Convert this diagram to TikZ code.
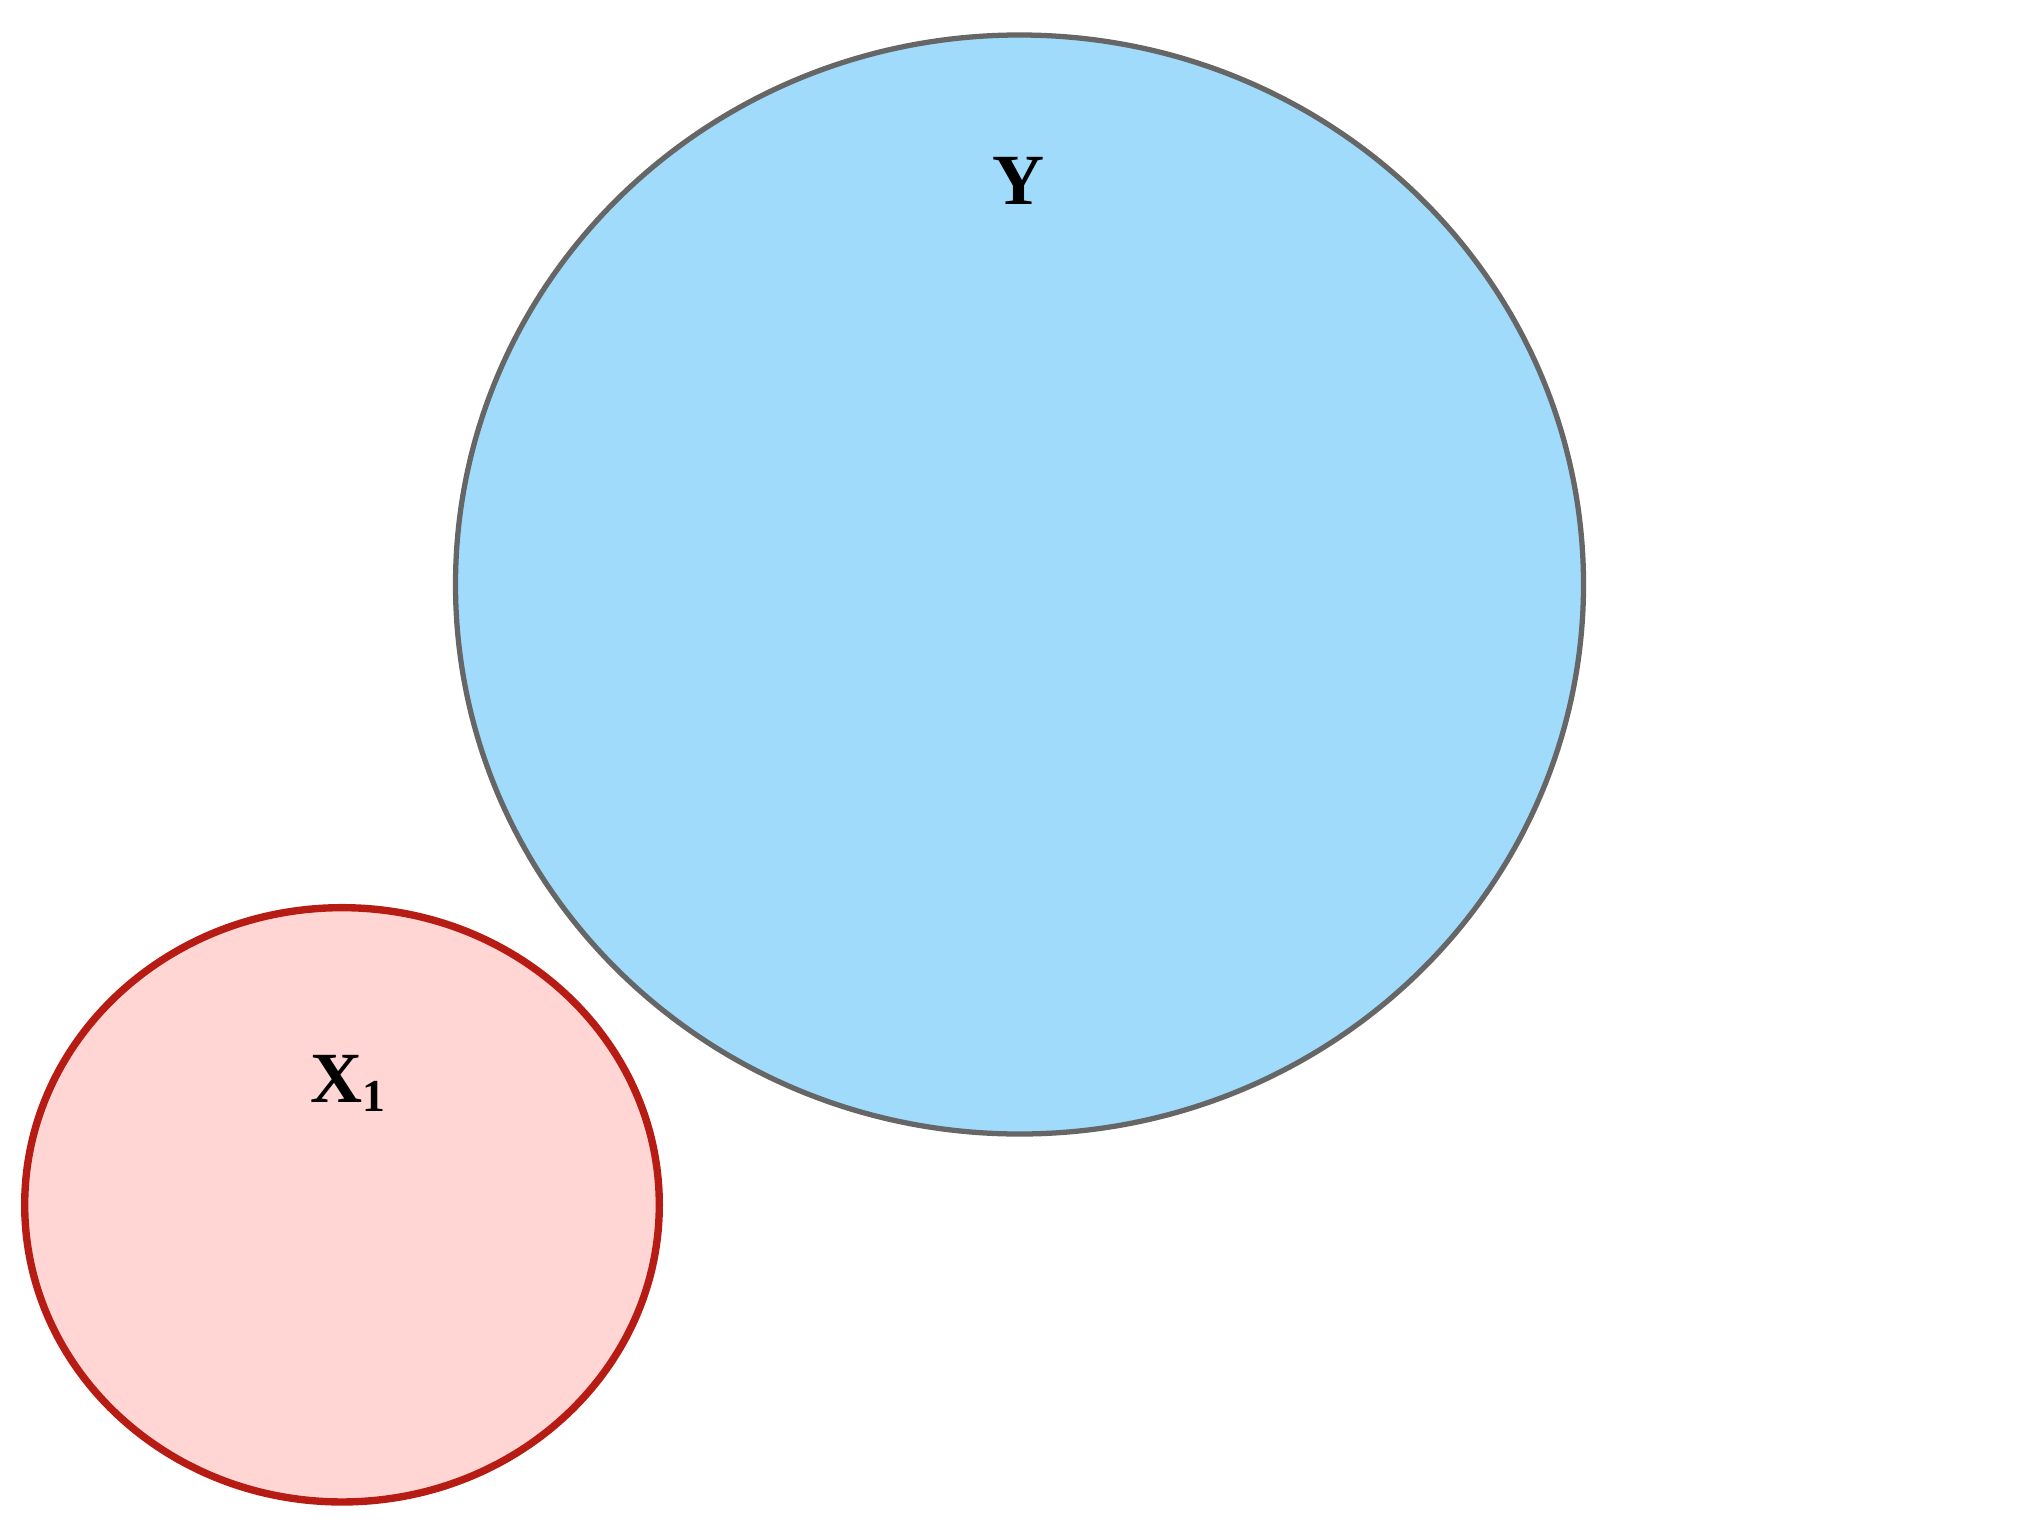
\documentclass[tikz,border=0pt]{standalone}
\usepackage{fontspec}
\setmainfont{Liberation Serif}
\newfontfamily\labfont{Liberation Serif}
\usetikzlibrary{shapes.geometric}
\definecolor{setblue}{HTML}{A0DBFB}
\definecolor{setgray}{HTML}{666666}
\definecolor{setpink}{HTML}{FFD6D4}
\definecolor{setred}{HTML}{B71C14}
\begin{document}
\begin{tikzpicture}[set/.style={ellipse,inner sep=0pt,outer sep=0pt},
    lab/.style={font=\labfont\bfseries\fontsize{20.5}{24}\selectfont,inner sep=0pt}]
        \useasboundingbox (0,0) rectangle (20.39,-15.30);
		\path (10.195,-5.845) coordinate (cY)
		(3.42,-12.048) coordinate (cX);
		\node[set,draw=setgray,fill=setblue,line width=1.5pt,minimum width=11.28cm,minimum height=10.99cm] (setY) at (cY) {};
		\node[set,draw=setred,fill=setpink,line width=2.1pt,minimum width=6.346cm,minimum height=5.943cm] (setX) at (cX) {};
		\node[lab] (labY) at (10.18,-1.81) {Y};
		\node[lab,anchor=base west] (labX) at (3.10,-11.02) {X\raisebox{-0.3ex}{\fontsize{13}{15}\selectfont 1}};
\end{tikzpicture}
\end{document}
